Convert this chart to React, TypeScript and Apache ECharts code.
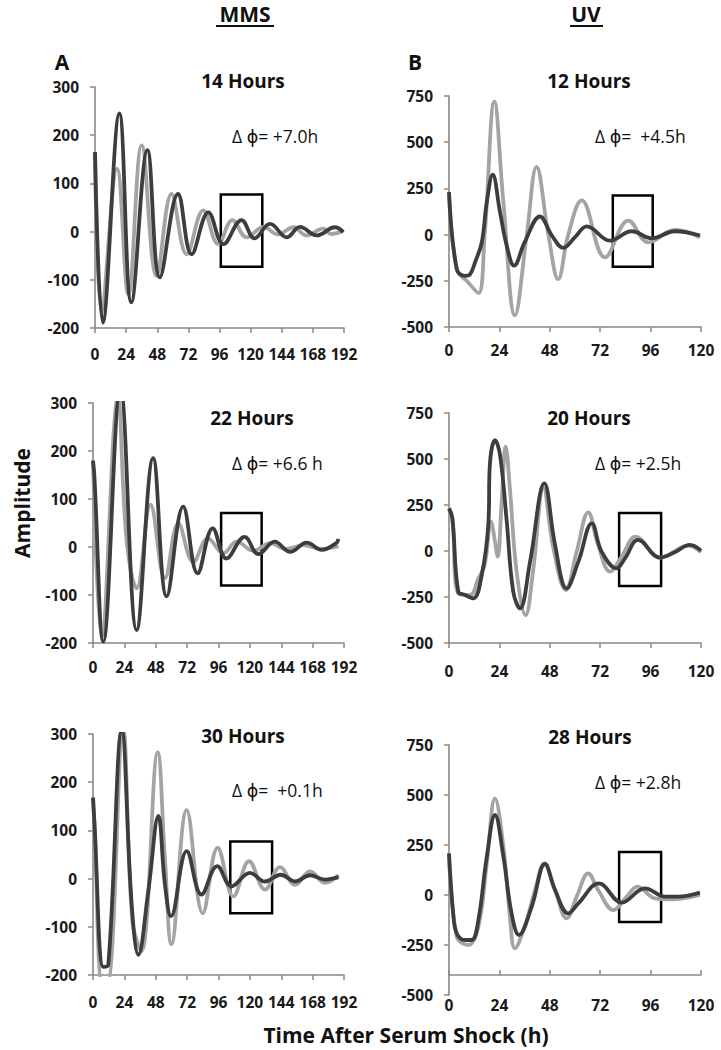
import React, { useEffect, useRef } from "react";
import * as echarts from "echarts";

// ---------- data ----------
const mmsXTicks = [0, 24, 48, 72, 96, 120, 144, 168, 192];
const uvXTicks = [0, 24, 48, 72, 96, 120];

// Panel A: MMS 14 Hours
const darkA = [[0,165],[6,-189],[18.8,245],[28,-147],[40.4,169],[50,-95],[64,78],[74.5,-47],[87.4,40],[99,-26],[113,24],[123,-14],[135,16],[148,-12],[158,10],[171,-8],[185,9],[191.5,-1]];
const lightA = [[0,165],[5,-165],[17,130],[25.7,-130],[36,179],[47.5,-92],[59,78],[70.7,-47],[83.5,44],[95,-26],[106,24],[117,-12],[130,10],[141,-6],[153,9],[163,-8],[176,6],[182,-5],[191,1]];
const boxA = [97, -73, 129, 77];

// Panel B: UV 12 Hours
const darkB = [[0,230],[3.7,-187],[7.6,-223],[10,-215],[12.4,-150],[15.6,-42],[18,176],[20.8,324],[24.3,121],[27.5,-60],[31,-168],[36,-42],[43.3,98],[49,-5],[54.4,-72],[60,-14],[65.6,45],[76.7,-33],[87,18],[96.5,-20],[107.6,18],[119.5,-5]];
const lightB = [[0,230],[3.7,-187],[9.2,-259],[14,-317],[17,0],[21.6,720],[25.9,176],[31.4,-437],[37,-5],[41.7,366],[47.3,0],[52,-241],[56.8,0],[63.2,185],[74.3,-123],[85.4,76],[95,-42],[107.6,25],[119.5,-14]];
const boxB = [78, -174, 97, 212];

// Panel C: MMS 22 Hours
const darkC = [[0,180],[1,150],[7.9,-197],[21,330],[33.4,-173],[46,185],[56.4,-103],[69,84],[80,-55],[91.6,39],[102,-24],[116,21],[126.5,-15],[139,11],[150.8,-10],[163.5,9],[175,-6],[186,8],[187.7,17]];
const lightC = [[0,180],[6.6,-187],[19,310],[25.8,11],[33.4,-86],[44,88],[55,-65],[65.3,49],[76.8,-31],[88,18],[99.7,-13],[110,11],[122.7,-8],[135.5,8],[148,-4],[161,4],[174,-4],[187.7,1]];
const boxC = [98, -80, 129, 71];

// Panel D: UV 20 Hours
const darkD = [[0,232],[1.6,178],[4.4,-221],[7.6,-239],[11.6,-257],[15.6,-130],[18.7,141],[19.5,476],[21.9,603],[24.3,522],[27.5,160],[30.6,-221],[33.8,-312],[38.6,-58],[45.4,368],[50.5,33],[56,-203],[61.6,-58],[68,150],[72.7,-4],[79.8,-94],[83.8,-40],[90,60],[100.5,-36],[107,-10],[114.8,33],[120,2]];
const lightD = [[0,232],[1.6,178],[4.4,-230],[10,-239],[14,-149],[17,-76],[20,160],[21.9,51],[23.2,-31],[25,250],[27,567],[29,340],[32.2,-112],[36.5,-348],[40,-112],[45,341],[49.7,14],[55.6,-212],[60.8,-4],[66.3,210],[71,33],[76.7,-112],[82.2,-31],[88.9,78],[100.5,-36],[114,29],[120,-7]];
const boxD = [81, -190, 101, 207];

// Panel E: MMS 30 Hours
const darkE = [[0,168],[1,120],[7.9,-183],[11.7,-179],[22,307],[29.6,-54],[34.7,-158],[42.3,-26],[50,130],[55,-12],[59.7,-78],[71.7,57],[83,-33],[95,26],[106,-16],[120,12],[131.6,-6],[143.6,8],[154.6,-6],[166,7],[177.5,-2],[187.8,3]];
const lightE = [[0,168],[1,120],[7,-215],[11,-215],[23,310],[30,-85],[37,-151],[49.5,262],[55,43],[60,-136],[71.7,142],[84,-72],[95.4,64],[107.4,-37],[119.4,36],[131.6,-23],[143,24],[154.6,-13],[166,15],[177.5,-9],[187.8,7]];
const boxE = [105, -72, 137, 77];

// Panel F: UV 28 Hours
const darkF = [[0,208],[2,-92],[3.7,-192],[7.6,-225],[10.8,-225],[14,-125],[18,192],[21.9,400],[25.9,192],[29.8,-92],[33.3,-200],[39.4,-58],[45.7,155],[50.5,25],[56.8,-92],[61.6,-42],[71.4,58],[82.2,-38],[93.3,33],[103,-8],[109,-8],[119.5,12]];
const lightF = [[0,208],[3.7,-208],[9.2,-250],[14,-158],[18,158],[21.9,483],[25.9,242],[29,-108],[31.4,-267],[36,-158],[41,25],[45.4,158],[50.5,25],[56,-117],[60.8,-8],[66.3,108],[71,25],[78.3,-75],[84.6,-8],[89.8,42],[98,-17],[106,-22],[119.5,0]];
const boxF = [81, -135, 101, 215];

const titles = ["14 Hours", "12 Hours", "22 Hours", "20 Hours", "30 Hours", "28 Hours"];
const phases = ["Δ ϕ= +7.0h", "Δ ϕ=\u00a0 +4.5h", "Δ ϕ= +6.6 h", "Δ ϕ= +2.5h", "Δ ϕ=\u00a0 +0.1h", "Δ ϕ= +2.8h"];

// ---------- layout ----------
const FONT = '"Open Sans", "DejaVu Sans", sans-serif';
const DARK = "#3d3d3d";
const LIGHT = "#a4a4a4";
const AXIS = "#888888";

// Panel F: the x axis crosses the y axis at -400, while the y axis runs down to -500.
const panels = [
  { dark: darkA, light: lightA, box: boxA, mms: true, ymin: -200, grid: { left: 95, top: 87, width: 249, height: 241 }, labelMargin: 18, tickInside: false, title: [243, 81], phase: [232, 136] },
  { dark: darkB, light: lightB, box: boxB, mms: false, ymin: -500, grid: { left: 449, top: 96, width: 252, height: 231 }, labelMargin: 15, tickInside: false, title: [589, 81], phase: [595, 136] },
  { dark: darkC, light: lightC, box: boxC, mms: true, ymin: -200, grid: { left: 93, top: 403, width: 251, height: 240 }, labelMargin: 16, tickInside: false, title: [252, 418], phase: [232, 463] },
  { dark: darkD, light: lightD, box: boxD, mms: false, ymin: -500, grid: { left: 449, top: 413, width: 252, height: 230 }, labelMargin: 20, tickInside: false, title: [589, 418], phase: [595, 463] },
  { dark: darkE, light: lightE, box: boxE, mms: true, ymin: -200, grid: { left: 93, top: 734, width: 251, height: 241 }, labelMargin: 19, tickInside: false, title: [243, 736], phase: [232, 790] },
  { dark: darkF, light: lightF, box: boxF, mms: false, ymin: -400, grid: { left: 449, top: 745, width: 252, height: 230 }, labelMargin: 22, tickInside: true, title: [590, 737], phase: [595, 782] },
];

function mkAxisLine() {
  return { show: true, onZero: false, lineStyle: { color: AXIS, width: 1.6 } };
}
function mkTick(inside: boolean) {
  return { show: true, inside, length: 5, lineStyle: { color: AXIS, width: 1.5 } };
}
function mkLabel(margin: number) {
  return { color: "#1a1a1a", fontFamily: FONT, fontWeight: "bold", fontSize: 15.5, margin };
}

function buildOption() {
  const grid: any[] = [];
  const xAxis: any[] = [];
  const yAxis: any[] = [];
  const series: any[] = [];
  const graphic: any[] = [];

  // extra grid (index 0) holding panel F's full y axis (-500 .. 750), drawn beneath the rest
  grid.push({ left: 449, top: 745, width: 252, height: 250 });
  xAxis.push({ type: "value", gridIndex: 0, min: 0, max: 120, show: false });
  yAxis.push({
    type: "value", gridIndex: 0, min: -500, max: 750, interval: 250,
    axisLine: mkAxisLine(), axisTick: mkTick(false), splitLine: { show: false },
    axisLabel: mkLabel(16),
  });

  panels.forEach((p, k) => {
    const i = k + 1;
    grid.push({ ...p.grid, containLabel: false });
    const xt = p.mms ? mmsXTicks : uvXTicks;
    xAxis.push({
      type: "value", gridIndex: i, min: xt[0], max: xt[xt.length - 1], interval: 24,
      axisLine: mkAxisLine(), axisTick: mkTick(p.tickInside),
      splitLine: { show: false },
      axisLabel: mkLabel(p.labelMargin),
    });
    const isF = p.ymin === -400;
    yAxis.push({
      type: "value", gridIndex: i,
      min: p.ymin, max: p.mms ? 300 : 750, interval: p.mms ? 100 : (isF ? 50 : 250),
      axisLine: { ...mkAxisLine(), show: !isF }, axisTick: { ...mkTick(false), show: !isF },
      axisLabel: { ...mkLabel(16), show: !isF },
      splitLine: { show: false },
    });
    series.push({
      type: "line", xAxisIndex: i, yAxisIndex: i, data: p.light, smooth: 0.4,
      showSymbol: false, clip: true, lineStyle: { color: LIGHT, width: 3.8 }, z: 2,
      markArea: {
        silent: true,
        itemStyle: { color: "rgba(0,0,0,0)", borderColor: "#000", borderWidth: 2.5 },
        data: [[{ coord: [p.box[0], p.box[1]] }, { coord: [p.box[2], p.box[3]] }]],
      },
    });
    series.push({
      type: "line", xAxisIndex: i, yAxisIndex: i, data: p.dark, smooth: 0.4,
      showSymbol: false, clip: true, lineStyle: { color: DARK, width: 3.8 }, z: 3,
    });
    graphic.push({
      type: "text", x: p.title[0], y: p.title[1],
      style: { text: titles[k], font: `bold 19px ${FONT}`, fill: "#111", align: "center", verticalAlign: "middle" },
    });
    graphic.push({
      type: "text", x: p.phase[0], y: p.phase[1],
      style: { text: phases[k], font: `17.5px ${FONT}`, fill: "#111", align: "left", verticalAlign: "middle" },
    });
  });

  graphic.push(
    { type: "text", x: 245, y: 14, style: { text: "MMS", font: `bold 21px ${FONT}`, fill: "#111", align: "center", verticalAlign: "middle" } },
    { type: "line", shape: { x1: 216, y1: 26, x2: 274, y2: 26 }, style: { stroke: "#111", lineWidth: 2 } },
    { type: "text", x: 586, y: 14, style: { text: "UV", font: `bold 21px ${FONT}`, fill: "#111", align: "center", verticalAlign: "middle" } },
    { type: "line", shape: { x1: 570, y1: 26, x2: 603, y2: 26 }, style: { stroke: "#111", lineWidth: 2 } },
    { type: "text", x: 62, y: 62, style: { text: "A", font: `bold 21px ${FONT}`, fill: "#111", align: "center", verticalAlign: "middle" } },
    { type: "text", x: 415, y: 62, style: { text: "B", font: `bold 21px ${FONT}`, fill: "#111", align: "center", verticalAlign: "middle" } },
    { type: "text", x: 22, y: 503, rotation: Math.PI / 2, style: { text: "Amplitude", font: `bold 21px ${FONT}`, fill: "#111", align: "center", verticalAlign: "middle" } },
    { type: "text", x: 406, y: 1035, style: { text: "Time After Serum Shock (h)", font: `bold 21px ${FONT}`, fill: "#111", align: "center", verticalAlign: "middle" } },
  );

  return { animation: false, backgroundColor: "#fff", grid, xAxis, yAxis, series, graphic };
}

export default function App() {
  const ref = useRef<HTMLDivElement>(null);
  useEffect(() => {
    if (!ref.current) return;
    const chart = echarts.init(ref.current, null, { renderer: "svg" });
    chart.setOption(buildOption() as any);
    return () => chart.dispose();
  }, []);
  return <div ref={ref} style={{ position: "absolute", left: 0, top: 0, width: 721, height: 1050, background: "#fff" }} />;
}
